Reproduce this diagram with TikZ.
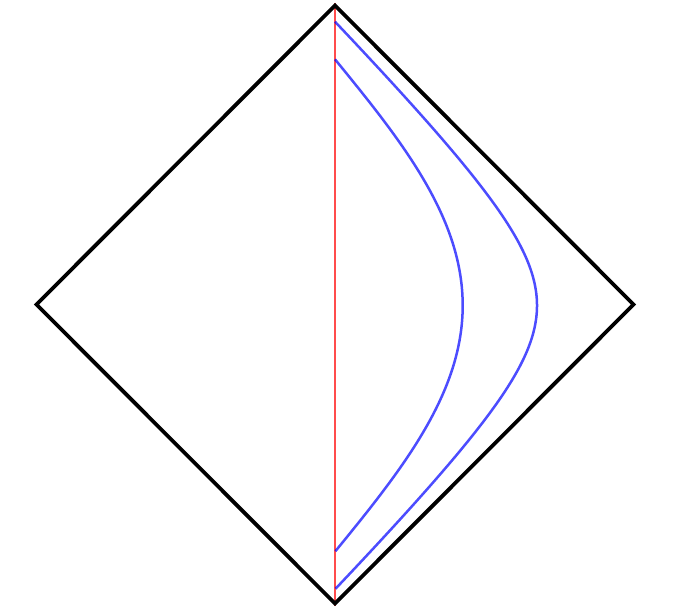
\documentclass[tikz,border=0pt]{standalone}
\begin{document}
\begin{tikzpicture}[x=1pt,y=-1pt,
  edge/.style={black,line width=3.8pt,line join=miter},
  axisline/.style={red,opacity=.7,line width=2.5pt},
  worldline/.style={blue,opacity=.7,line width=2.5pt}]
\useasboundingbox (0,0) rectangle (675,610);
\coordinate (T) at (335,5.5);
\coordinate (B) at (335,603.5);
\coordinate (L) at (36.5,304.5);
\coordinate (R) at (633.5,304.5);
\coordinate (Ttip) at (335,3);
\coordinate (Btip) at (335,606);
\draw[axisline] (Ttip) -- (Btip);
\draw[worldline] plot[domain=-1:1,samples=200,smooth,variable=\s]
  ({335+127.7*cos(90*\s)},{305.5+246.2*\s});
\draw[worldline] plot[domain=-1:1,samples=200,smooth,variable=\s]
  ({335+202*(1-(sqrt(\s*\s+0.1225)-0.35)/0.7095)},{305.5+283.8*\s});
\draw[edge] (T) -- (R) -- (B) -- (L) -- cycle;
\end{tikzpicture}
\end{document}
